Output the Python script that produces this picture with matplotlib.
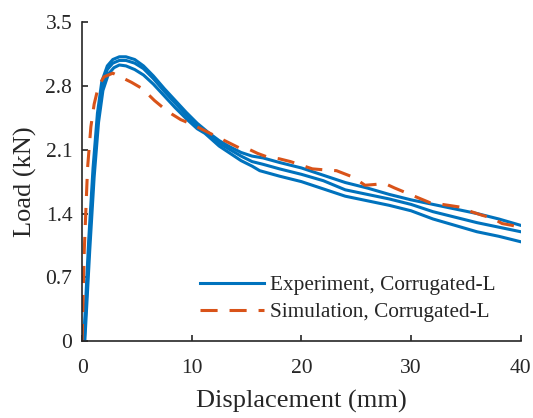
import matplotlib
matplotlib.use("Agg")
import matplotlib.pyplot as plt

plt.rcParams['font.family'] = ['Liberation Serif', 'DejaVu Serif']

# Experiment curves (displacement mm, load kN)
exp_a_x = [0, 0.15, 0.6, 1.0, 1.4, 1.8, 2.3, 2.8, 3.4, 4.0, 4.8, 5.6, 6.5, 7.5, 8.5, 9.5, 10.5, 11.5,
           12.5, 13.5, 14.5, 15.5, 16.5, 18, 20, 22, 24, 26, 28, 30, 32, 34, 36, 38, 40]
exp_a_y = [0, 0, 1.1, 1.9, 2.5, 2.85, 3.02, 3.09, 3.12, 3.12, 3.09, 3.02, 2.91, 2.77, 2.64, 2.51, 2.39, 2.29,
           2.20, 2.13, 2.07, 2.03, 2.01, 1.96, 1.90, 1.82, 1.74, 1.68, 1.61, 1.55, 1.50, 1.45, 1.40, 1.34, 1.27]

exp_b_x = [0, 0.2, 0.65, 1.05, 1.45, 1.85, 2.3, 2.8, 3.4, 4.0, 4.8, 5.6, 6.5, 7.5, 8.5, 9.5, 10.5, 11.5,
           12.5, 13.5, 14.5, 15.5, 16.5, 18, 20, 22, 24, 26, 28, 30, 32, 34, 36, 38, 40]
exp_b_y = [0, 0, 1.05, 1.85, 2.45, 2.8, 2.98, 3.05, 3.08, 3.08, 3.05, 2.99, 2.88, 2.74, 2.61, 2.48, 2.36, 2.26,
           2.17, 2.10, 2.03, 1.97, 1.94, 1.89, 1.83, 1.76, 1.66, 1.61, 1.56, 1.50, 1.42, 1.36, 1.30, 1.25, 1.20]

exp_c_x = [0, 0.25, 0.7, 1.1, 1.5, 1.9, 2.4, 2.9, 3.4, 4.0, 4.8, 5.6, 6.5, 7.5, 8.5, 9.5, 10.5, 11.2,
           12.5, 13.5, 14.5, 15.5, 16.2, 18, 20, 22, 24, 26, 28, 30, 32, 34, 36, 38, 40]
exp_c_y = [0, 0, 1.0, 1.8, 2.4, 2.75, 2.93, 3.0, 3.03, 3.02, 2.98, 2.92, 2.82, 2.69, 2.56, 2.44, 2.33, 2.28,
           2.14, 2.06, 1.98, 1.92, 1.87, 1.81, 1.75, 1.67, 1.59, 1.54, 1.49, 1.43, 1.34, 1.27, 1.20, 1.15, 1.09]

# Simulation curve
sim_x = [0, 0.2, 0.5, 0.8, 1.1, 1.5, 2.0, 2.8, 3.5, 4.5, 5.5, 6.6, 7.5, 8.2, 9.0, 9.6, 10.5, 11.5, 12.5,
         13.5, 14.5, 15.3, 16.0, 16.9, 18, 19, 20, 21, 22, 23.2, 24.7, 25.8, 26.8, 27.6, 28.5, 29.7,
         30.7, 31.7, 33.4, 34.5, 35.5, 36.5, 37.4, 38.3, 39.2, 40]
sim_y = [0, 1.0, 1.9, 2.35, 2.6, 2.8, 2.9, 2.94, 2.90, 2.84, 2.77, 2.64, 2.55, 2.49, 2.43, 2.40, 2.35, 2.29, 2.23,
         2.17, 2.11, 2.10, 2.06, 2.02, 2.00, 1.97, 1.93, 1.89, 1.88, 1.87, 1.80, 1.71, 1.72, 1.73, 1.68, 1.62,
         1.57, 1.52, 1.49, 1.47, 1.42, 1.38, 1.35, 1.29, 1.27, 1.25]

x_ticks = [0, 10, 20, 30, 40]
y_ticks = [0, 0.7, 1.4, 2.1, 2.8, 3.5]
y_tick_labels = ['0', '0.7', '1.4', '2.1', '2.8', '3.5']

blue = '#0072BD'
orange = '#D95319'
dark = '#262626'

fig = plt.figure(figsize=(5.33, 4.18), dpi=100)
ax = fig.add_axes([0.154, 0.184, 0.823, 0.763])

ax.plot(exp_a_x, exp_a_y, color=blue, lw=2.2, label='Experiment, Corrugated-L')
ax.plot(exp_b_x, exp_b_y, color=blue, lw=2.2)
ax.plot(exp_c_x, exp_c_y, color=blue, lw=2.2)
ax.plot(sim_x, sim_y, color=orange, lw=2.2, linestyle=(0, (5.6, 3.9)), label='Simulation, Corrugated-L')

ax.set_xlim(0, 40)
ax.set_ylim(0, 3.5)
ax.set_xticks(x_ticks)
ax.set_yticks(y_ticks)
ax.set_yticklabels(y_tick_labels)

for s in ['top', 'right']:
    ax.spines[s].set_visible(False)
for s in ['left', 'bottom']:
    ax.spines[s].set_color(dark)
    ax.spines[s].set_linewidth(1.2)

ax.tick_params(direction='in', length=4, width=1.2, colors=dark, labelsize=15.5)
ax.tick_params(axis='x', pad=13)
ax.tick_params(axis='y', pad=7)
ax.set_xlabel('Displacement (mm)', fontsize=19, color=dark, labelpad=8.5)
ax.set_ylabel('Load (kN)', fontsize=19, color=dark, labelpad=6)

leg = ax.legend(loc='upper left', bbox_to_anchor=(0.269, 0.207), frameon=False, fontsize=15.3,
                handlelength=3.0, handletextpad=0.3, labelspacing=0.34, borderpad=0, borderaxespad=0)
for t in leg.get_texts():
    t.set_color(dark)

fig.savefig('out.png', dpi=100)
